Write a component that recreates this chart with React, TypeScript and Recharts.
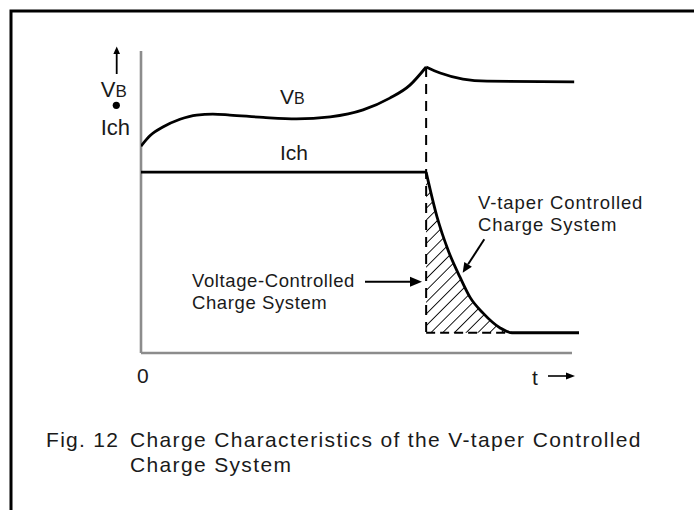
import React from 'react';
import { ComposedChart, Line, Area, XAxis, YAxis, ReferenceLine } from 'recharts';

// Time (0..100) and relative level (0..100)
const vbRiseT = [0, 2.1, 5.1, 8.9, 12.7, 16.4, 20.3, 27.9, 35.5, 43.2, 50.7, 56.8, 61.4, 65.1];
const vbRiseV = [68.5, 72.0, 74.9, 77.4, 78.8, 79.1, 78.8, 78.0, 77.5, 78.2, 80.5, 84.4, 88.7, 94.7];
const vbFallT = [65.1, 68.3, 73.5, 79.0, 98.9];
const vbFallV = [94.7, 92.7, 90.7, 90.0, 89.8];
const ichFlatT = [0, 65.1];
const ichFlatV = [59.9, 59.9];
const taperT = [65.1, 67.6, 70.1, 72.8, 75.1, 78.1, 82.0, 84.7, 100];
const taperV = [59.9, 45.0, 34.1, 25.2, 18.5, 13.2, 8.3, 6.7, 6.7];
const switchT = 65.1;
const floorV = 6.7;
const axisEndT = 98.4;

const zip = (ts: number[], vs: number[]) => ts.map((t, i) => ({ t, v: vs[i] }));
const vbRise = zip(vbRiseT, vbRiseV);
const vbFall = zip(vbFallT, vbFallV);
const ichFlat = zip(ichFlatT, ichFlatV);
const taper = zip(taperT, taperV);

const FONT = '"Liberation Sans", Arial, Helvetica, sans-serif';
const TXT = '#1a1a1a';

export default function App() {
  return (
    <div style={{ position: 'absolute', left: 0, top: 0, width: 694, height: 510, background: '#fff' }}>
      <ComposedChart width={694} height={510} margin={{ left: 141, right: 115, top: 51, bottom: 157 }}>
        <defs>
          <pattern id="hatch" patternUnits="userSpaceOnUse" width={8.3} height={8.3} patternTransform="rotate(45)">
            <line x1={0} y1={0} x2={0} y2={8.3} stroke="#000" strokeWidth={1.8} />
          </pattern>
        </defs>
        <XAxis dataKey="t" type="number" domain={[0, 100]} hide allowDataOverflow />
        <YAxis type="number" domain={[0, 100]} hide allowDataOverflow />
        <Area data={taper} dataKey="v" type="monotone" baseValue={floorV} fill="url(#hatch)" fillOpacity={1} stroke="none" isAnimationActive={false} />
        <ReferenceLine segment={[{ x: 0, y: 0 }, { x: 0, y: 100 }]} stroke="#8c8c8c" strokeWidth={2.6} />
        <ReferenceLine segment={[{ x: 0, y: 0 }, { x: axisEndT, y: 0 }]} stroke="#8c8c8c" strokeWidth={2.6} />
        <ReferenceLine segment={[{ x: switchT, y: 94.7 }, { x: switchT, y: floorV }]} stroke="#000" strokeWidth={2} strokeDasharray="10 7" />
        <ReferenceLine segment={[{ x: switchT, y: floorV }, { x: 84.7, y: floorV }]} stroke="#000" strokeWidth={2} strokeDasharray="9 5" />
        <Line data={vbRise} dataKey="v" type="monotone" dot={false} stroke="#000" strokeWidth={2.8} isAnimationActive={false} />
        <Line data={vbFall} dataKey="v" type="monotone" dot={false} stroke="#000" strokeWidth={2.8} isAnimationActive={false} />
        <Line data={ichFlat} dataKey="v" type="linear" dot={false} stroke="#000" strokeWidth={2.8} isAnimationActive={false} />
        <Line data={taper} dataKey="v" type="monotone" dot={false} stroke="#000" strokeWidth={2.8} isAnimationActive={false} />
      </ComposedChart>
      <svg width={694} height={510} style={{ position: 'absolute', left: 0, top: 0, pointerEvents: 'none' }}>
        <rect x={11} y={11} width={800} height={700} fill="none" stroke="#000" strokeWidth={3} />
        {/* y axis label */}
        <line x1={116.7} y1={74} x2={116.7} y2={52} stroke="#000" strokeWidth={1.8} />
        <polygon points="116.7,46.5 113.4,54 120,54" fill="#000" />
        <text x={100.7} y={97} fontFamily={FONT} fontSize={22} fill={TXT}>V<tspan fontSize={17}>B</tspan></text>
        <circle cx={116.3} cy={105.3} r={3.6} fill="#000" />
        <text x={100.7} y={135} fontFamily={FONT} fontSize={22} fill={TXT}>Ich</text>
        {/* curve labels */}
        <text x={280} y={104} fontFamily={FONT} fontSize={21} fill={TXT}>V<tspan fontSize={16}>B</tspan></text>
        <text x={280} y={160} fontFamily={FONT} fontSize={21} fill={TXT}>Ich</text>
        {/* voltage controlled */}
        <text x={192} y={287} fontFamily={FONT} fontSize={18.5} letterSpacing={0.6} fill={TXT}>Voltage-Controlled</text>
        <text x={192} y={309} fontFamily={FONT} fontSize={18.5} letterSpacing={0.6} fill={TXT}>Charge System</text>
        <line x1={365} y1={281.7} x2={412} y2={281.7} stroke="#000" strokeWidth={2} />
        <polygon points="422,281.7 410,276.7 410,286.7" fill="#000" />
        {/* v-taper */}
        <text x={478} y={209} fontFamily={FONT} fontSize={18.5} letterSpacing={0.9} fill={TXT}>V-taper Controlled</text>
        <text x={478} y={231} fontFamily={FONT} fontSize={18.5} letterSpacing={0.9} fill={TXT}>Charge System</text>
        <line x1={484.3} y1={239.3} x2={468.1} y2={264.3} stroke="#000" strokeWidth={2} />
        <polygon points="462.7,272.7 471.9,266.7 464.3,261.9" fill="#000" />
        {/* x axis labels */}
        <text x={137} y={383} fontFamily={FONT} fontSize={21} fill={TXT}>0</text>
        <text x={532} y={385} fontFamily={FONT} fontSize={21} fill={TXT}>t</text>
        <line x1={548} y1={376} x2={568} y2={376} stroke="#000" strokeWidth={1.6} />
        <polygon points="575,376 566,372.5 566,379.5" fill="#000" />
        {/* caption */}
        <text x={46} y={447} fontFamily={FONT} fontSize={21} letterSpacing={1.3} fill={TXT}>Fig. 12</text>
        <text x={130} y={447} fontFamily={FONT} fontSize={21} letterSpacing={1.35} fill={TXT}>Charge Characteristics of the V-taper Controlled</text>
        <text x={130} y={472} fontFamily={FONT} fontSize={21} letterSpacing={1.35} fill={TXT}>Charge System</text>
      </svg>
    </div>
  );
}
